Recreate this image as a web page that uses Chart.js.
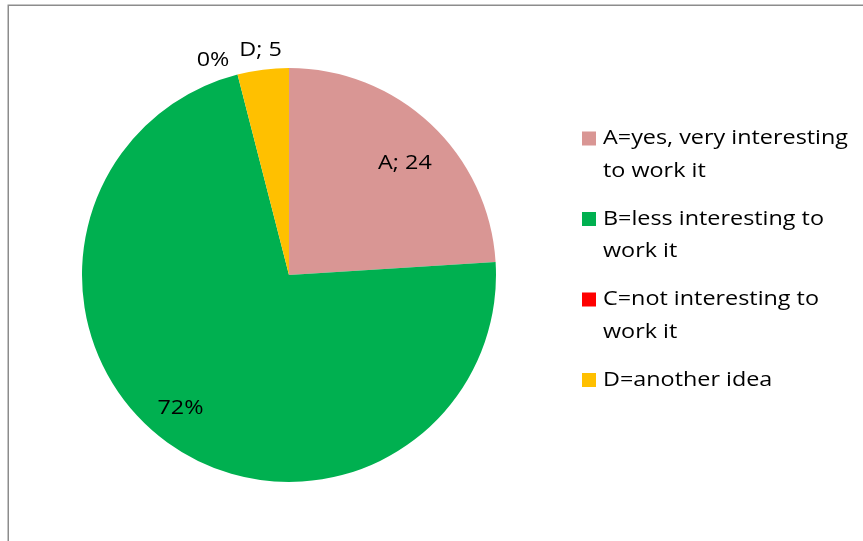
<!DOCTYPE html>
<html>
<head>
<meta charset="utf-8">
<script src="https://cdn.jsdelivr.net/npm/chart.js@4/dist/chart.umd.min.js"></script>
<style>
  html, body { margin: 0; padding: 0; background: #ffffff; }
  #wrap { position: relative; width: 863px; height: 541px; }
</style>
</head>
<body>
<div id="wrap"><canvas id="c" width="863" height="541"></canvas></div>
<script>
const categories = [
  "A=yes, very interesting to work it",
  "B=less interesting to work it",
  "C=not interesting to work it",
  "D=another idea"
];
const values = [24, 72, 0, 4];
const sliceLabels = ["A; 24", "72%", "0%", "D; 5"];
const colors = ["#D99694", "#00B050", "#FF0000", "#FFC000"];

const FONT = '20px "Open Sans"';

// label placement relative to each slice: radius factor and angle shift (deg)
const labelRadius = [0.78, 0.826, 1.105, 1.097];
const labelShift = [2.7, 3.4, -5.0, 0];

let SX = 1;
function computeStretch(ctx) {
  ctx.save();
  ctx.font = FONT;
  const w = ctx.measureText("A=yes, very interesting").width;
  ctx.restore();
  SX = w > 0 ? 245 / w : 1;
}
function drawText(ctx, s, x, y, align) {
  ctx.save();
  ctx.translate(x, y);
  ctx.scale(SX, 1);
  ctx.textAlign = align;
  ctx.fillText(s, 0, 0);
  ctx.restore();
}

const framePlugin = {
  id: 'frame',
  beforeDraw(chart) {
    const ctx = chart.ctx;
    computeStretch(ctx);
    ctx.save();
    ctx.fillStyle = '#ffffff';
    ctx.fillRect(0, 0, chart.width, chart.height);
    ctx.strokeStyle = '#8c8c8c';
    ctx.lineWidth = 1.5;
    ctx.strokeRect(8.25, 5.25, 900, 600);
    ctx.restore();
  }
};

const labelPlugin = {
  id: 'sliceLabels',
  afterDatasetsDraw(chart) {
    const ctx = chart.ctx;
    const meta = chart.getDatasetMeta(0);
    ctx.save();
    ctx.font = FONT;
    ctx.fillStyle = '#000000';
    ctx.textBaseline = 'middle';
    meta.data.forEach((arc, i) => {
      const p = arc.getProps(['x', 'y', 'startAngle', 'endAngle', 'outerRadius'], true);
      const mid = (p.startAngle + p.endAngle) / 2 + labelShift[i] * Math.PI / 180;
      const r = p.outerRadius * labelRadius[i];
      const x = p.x + Math.cos(mid) * r;
      const y = p.y + Math.sin(mid) * r;
      drawText(ctx, sliceLabels[i], x, y + 1, 'center');
    });
    ctx.restore();
  }
};

function wrapText(ctx, text, maxW) {
  const words = text.split(' ');
  const lines = [];
  let cur = '';
  words.forEach(w => {
    const t = cur ? cur + ' ' + w : w;
    if (ctx.measureText(t).width * SX > maxW && cur) {
      lines.push(cur);
      cur = w;
    } else {
      cur = t;
    }
  });
  if (cur) lines.push(cur);
  return lines;
}

const legendPlugin = {
  id: 'sideLegend',
  afterDraw(chart) {
    const ctx = chart.ctx;
    const labels = chart.data.labels;
    const bg = chart.data.datasets[0].backgroundColor;
    ctx.save();
    ctx.font = FONT;
    ctx.textBaseline = 'middle';
    const boxX = 582, textX = 603, startY = 138.5, itemGap = 80.5, lineGap = 32.5;
    labels.forEach((lab, i) => {
      const y0 = startY + i * itemGap;
      ctx.fillStyle = bg[i];
      ctx.fillRect(boxX, y0 - 7, 14, 14);
      ctx.fillStyle = '#000000';
      const lines = wrapText(ctx, lab, 255);
      lines.forEach((ln, j) => drawText(ctx, ln, textX, y0 + j * lineGap, 'left'));
    });
    ctx.restore();
  }
};

new Chart(document.getElementById('c'), {
  type: 'pie',
  data: {
    labels: categories,
    datasets: [{
      data: values,
      backgroundColor: colors,
      borderWidth: 0
    }]
  },
  options: {
    responsive: false,
    animation: false,
    layout: { padding: { left: 82, right: 367, top: 68, bottom: 59 } },
    plugins: {
      legend: { display: false },
      tooltip: { enabled: false },
      title: { display: false }
    }
  },
  plugins: [framePlugin, labelPlugin, legendPlugin]
});
</script>
</body>
</html>
